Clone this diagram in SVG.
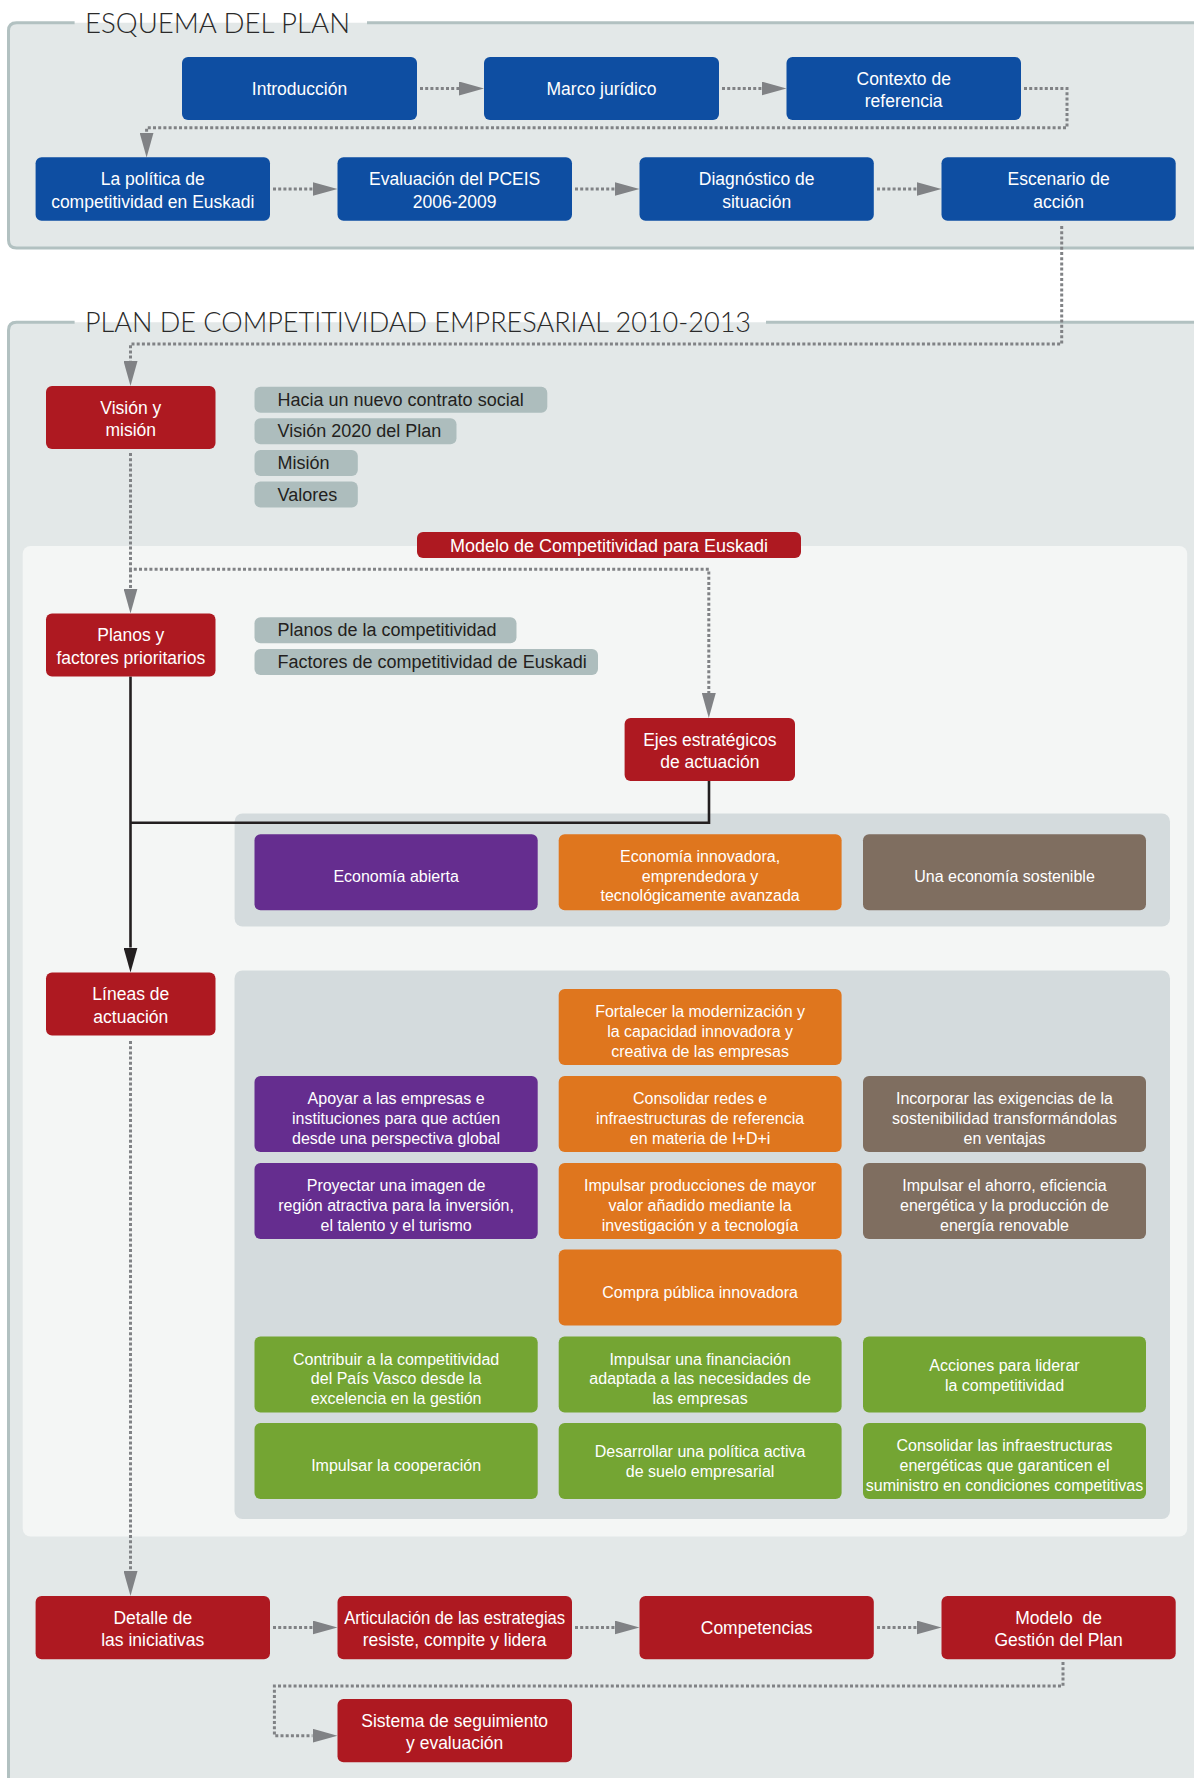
<svg xmlns="http://www.w3.org/2000/svg" width="1194" height="1778" viewBox="0 0 1194 1778">
<style>
.panel{fill:#e3e8e8}
.pborder{fill:none;stroke:#b2c1c1;stroke-width:3}
.title{font-family:Lato,"Liberation Sans",sans-serif;font-weight:300;font-size:28px;fill:#2a2a2a}
.blue{fill:#0e4ea2}
.red{fill:#ae1921}
.pill{fill:#adbdbd}
.pur{fill:#652d8f}
.ora{fill:#df761e}
.bro{fill:#7f6e60}
.gre{fill:#74a533}
.cont{fill:#d4dbdd}
.nt{font-family:"Liberation Sans",Arial,sans-serif;font-size:17.5px;fill:#ffffff;text-anchor:middle}
.lt{font-family:"Liberation Sans",Arial,sans-serif;font-size:16px;fill:#ffffff;text-anchor:middle}
.pt{font-family:"Liberation Sans",Arial,sans-serif;font-size:18px;fill:#231f20}
.dot{fill:none;stroke:#808285;stroke-width:3;stroke-dasharray:3 2.2}
.solid{fill:none;stroke:#231f20;stroke-width:2.6}
</style>
<defs>
<marker id="ag" markerWidth="25" markerHeight="14" refX="0" refY="7" orient="auto" markerUnits="userSpaceOnUse"><path d="M0,0 L25,7 L0,14 z" fill="#808285"/></marker>
<marker id="ab" markerWidth="25" markerHeight="14" refX="0" refY="7" orient="auto" markerUnits="userSpaceOnUse"><path d="M0,0 L25,7 L0,14 z" fill="#231f20"/></marker>
</defs>
<rect width="1194" height="1778" fill="#ffffff"/>

<!-- Panel 1 -->
<g id="panel-esquema">
<rect class="panel" x="8.5" y="22.7" width="1200" height="225.3" rx="8"/>
<path class="pborder" d="M367,22.7 H1200 M74.6,22.7 H16.5 Q8.5,22.7 8.5,30.7 V240 Q8.5,248 16.5,248 H1200"/>
<text class="title" x="85" y="33.3" textLength="265" lengthAdjust="spacingAndGlyphs">ESQUEMA DEL PLAN</text>
</g>

<!-- Panel 2 -->
<g id="panel-plan">
<rect class="panel" x="8.5" y="322.3" width="1200" height="1480" rx="8"/>
<path class="pborder" d="M766,322.3 H1200 M74.6,322.3 H16.5 Q8.5,322.3 8.5,330.3 V1800"/>
<text class="title" x="85" y="331.7" textLength="666" lengthAdjust="spacingAndGlyphs">PLAN DE COMPETITIVIDAD EMPRESARIAL 2010-2013</text>
<rect x="22.7" y="546" width="1164.5" height="990.5" rx="8" fill="#f4f6f5"/>
<rect class="cont" x="234.6" y="813.5" width="935.4" height="113" rx="8"/>
<rect class="cont" x="234.5" y="970.5" width="935.5" height="548.5" rx="8"/>
</g>

<!-- Connectors -->
<g id="connectors">
<path class="dot" d="M420,88.5 H459" marker-end="url(#ag)"/>
<path class="dot" d="M722,88.5 H761.5" marker-end="url(#ag)"/>
<path class="dot" d="M1024,88.5 H1067 V127.7 H146.6 V132.5" marker-end="url(#ag)"/>
<path class="dot" d="M273,189 H312.5" marker-end="url(#ag)"/>
<path class="dot" d="M575,189 H614.5" marker-end="url(#ag)"/>
<path class="dot" d="M877,189 H916.5" marker-end="url(#ag)"/>
<path class="dot" d="M1061.7,226 V344 H130.5 V361" marker-end="url(#ag)"/>
<path class="dot" d="M130.5,453 V569.3 H708.8 V693" marker-end="url(#ag)"/>
<path class="dot" d="M130.5,569.3 V588.5" marker-end="url(#ag)"/>
<path class="solid" d="M130.5,676.5 V947.5" marker-end="url(#ab)"/>
<path class="solid" d="M130.5,822.7 H709 V781"/>
<path class="dot" d="M130.5,1041 V1571" marker-end="url(#ag)"/>
<path class="dot" d="M273,1627.5 H312.5" marker-end="url(#ag)"/>
<path class="dot" d="M575,1627.5 H614.5" marker-end="url(#ag)"/>
<path class="dot" d="M877,1627.5 H916.5" marker-end="url(#ag)"/>
<path class="dot" d="M1063,1662 V1686 H274.4 V1735.7 H312.5" marker-end="url(#ag)"/>
</g>

<!-- Esquema nodes -->
<g id="n-introduccion"><rect class="blue" x="182" y="57" width="235" height="63" rx="6"/><text class="nt" x="299.5" y="94.5">Introducción</text></g>
<g id="n-marco"><rect class="blue" x="484" y="57" width="235" height="63" rx="6"/><text class="nt" x="601.5" y="94.5">Marco jurídico</text></g>
<g id="n-contexto"><rect class="blue" x="786.5" y="57" width="234.5" height="63" rx="6"/><text class="nt" x="903.7" y="84.5">Contexto de</text><text class="nt" x="903.7" y="107">referencia</text></g>
<g id="n-politica"><rect class="blue" x="35.6" y="157.3" width="234.4" height="63.4" rx="6"/><text class="nt" x="152.8" y="185">La política de</text><text class="nt" x="152.8" y="207.5">competitividad en Euskadi</text></g>
<g id="n-evaluacion"><rect class="blue" x="337.5" y="157.3" width="234.5" height="63.4" rx="6"/><text class="nt" x="454.7" y="185">Evaluación del PCEIS</text><text class="nt" x="454.7" y="207.5">2006-2009</text></g>
<g id="n-diagnostico"><rect class="blue" x="639.5" y="157.3" width="234.3" height="63.4" rx="6"/><text class="nt" x="756.7" y="185">Diagnóstico de</text><text class="nt" x="756.7" y="207.5">situación</text></g>
<g id="n-escenario"><rect class="blue" x="941.5" y="157.3" width="234.2" height="63.4" rx="6"/><text class="nt" x="1058.6" y="185">Escenario de</text><text class="nt" x="1058.6" y="207.5">acción</text></g>

<!-- Plan nodes -->
<g id="n-vision"><rect class="red" x="46" y="386" width="169.5" height="63" rx="6"/><text class="nt" x="130.8" y="413.5">Visión y</text><text class="nt" x="130.8" y="436">misión</text></g>
<g id="p-contrato"><rect class="pill" x="254.5" y="386.7" width="292.8" height="26" rx="6"/><text class="pt" x="277.5" y="405.7">Hacia un nuevo contrato social</text></g>
<g id="p-vision2020"><rect class="pill" x="254.5" y="418.3" width="202" height="26" rx="6"/><text class="pt" x="277.5" y="437.3">Visión 2020 del Plan</text></g>
<g id="p-mision"><rect class="pill" x="254.5" y="450" width="103.3" height="26" rx="6"/><text class="pt" x="277.5" y="469">Misión</text></g>
<g id="p-valores"><rect class="pill" x="254.5" y="481.5" width="103.3" height="26" rx="6"/><text class="pt" x="277.5" y="500.5">Valores</text></g>

<g id="n-modelo-comp"><rect class="red" x="417" y="532" width="384" height="26" rx="6"/><text class="nt" x="609" y="551.5" style="font-size:18px">Modelo de Competitividad para Euskadi</text></g>

<g id="n-planos"><rect class="red" x="46" y="613.5" width="169.5" height="63" rx="6"/><text class="nt" x="130.8" y="641">Planos y</text><text class="nt" x="130.8" y="663.5">factores prioritarios</text></g>
<g id="p-planos"><rect class="pill" x="254.5" y="617.3" width="262" height="26" rx="6"/><text class="pt" x="277.5" y="636.3">Planos de la competitividad</text></g>
<g id="p-factores"><rect class="pill" x="254.5" y="649" width="343.5" height="26" rx="6"/><text class="pt" x="277.5" y="668">Factores de competitividad de Euskadi</text></g>

<g id="n-ejes"><rect class="red" x="624.6" y="718" width="170.4" height="63" rx="6"/><text class="nt" x="709.8" y="745.5">Ejes estratégicos</text><text class="nt" x="709.8" y="768">de actuación</text></g>

<g id="e-abierta"><rect class="pur" x="254.5" y="834.3" width="283.2" height="76" rx="6"/><text class="lt" x="396.1" y="882">Economía abierta</text></g>
<g id="e-innovadora"><rect class="ora" x="558.7" y="834.3" width="282.9" height="76" rx="6"/><text class="lt" x="700.1" y="862">Economía innovadora,</text><text class="lt" x="700.1" y="881.5">emprendedora y</text><text class="lt" x="700.1" y="901">tecnológicamente avanzada</text></g>
<g id="e-sostenible"><rect class="bro" x="863" y="834.3" width="283" height="76" rx="6"/><text class="lt" x="1004.5" y="882">Una economía sostenible</text></g>

<g id="n-lineas"><rect class="red" x="46" y="972.5" width="169.5" height="63" rx="6"/><text class="nt" x="130.8" y="1000">Líneas de</text><text class="nt" x="130.8" y="1022.5">actuación</text></g>

<g id="l-fortalecer"><rect class="ora" x="558.7" y="989" width="282.9" height="76" rx="6"/><text class="lt" x="700.1" y="1017">Fortalecer la modernización y</text><text class="lt" x="700.1" y="1036.8">la capacidad innovadora y</text><text class="lt" x="700.1" y="1056.5">creativa de las empresas</text></g>
<g id="l-apoyar"><rect class="pur" x="254.5" y="1076" width="283.2" height="76" rx="6"/><text class="lt" x="396.1" y="1104">Apoyar a las empresas e</text><text class="lt" x="396.1" y="1123.8">instituciones para que actúen</text><text class="lt" x="396.1" y="1143.5">desde una perspectiva global</text></g>
<g id="l-consolidar-redes"><rect class="ora" x="558.7" y="1076" width="282.9" height="76" rx="6"/><text class="lt" x="700.1" y="1104">Consolidar redes e</text><text class="lt" x="700.1" y="1123.8">infraestructuras de referencia</text><text class="lt" x="700.1" y="1143.5">en materia de I+D+i</text></g>
<g id="l-incorporar"><rect class="bro" x="863" y="1076" width="283" height="76" rx="6"/><text class="lt" x="1004.5" y="1104">Incorporar las exigencias de la</text><text class="lt" x="1004.5" y="1123.8">sostenibilidad transformándolas</text><text class="lt" x="1004.5" y="1143.5">en ventajas</text></g>
<g id="l-proyectar"><rect class="pur" x="254.5" y="1163" width="283.2" height="76" rx="6"/><text class="lt" x="396.1" y="1191">Proyectar una imagen de</text><text class="lt" x="396.1" y="1210.8">región atractiva para la inversión,</text><text class="lt" x="396.1" y="1230.5">el talento y el turismo</text></g>
<g id="l-producciones"><rect class="ora" x="558.7" y="1163" width="282.9" height="76" rx="6"/><text class="lt" x="700.1" y="1191">Impulsar producciones de mayor</text><text class="lt" x="700.1" y="1210.8">valor añadido mediante la</text><text class="lt" x="700.1" y="1230.5">investigación y a tecnología</text></g>
<g id="l-ahorro"><rect class="bro" x="863" y="1163" width="283" height="76" rx="6"/><text class="lt" x="1004.5" y="1191">Impulsar el ahorro, eficiencia</text><text class="lt" x="1004.5" y="1210.8">energética y la producción de</text><text class="lt" x="1004.5" y="1230.5">energía renovable</text></g>
<g id="l-compra"><rect class="ora" x="558.7" y="1249.5" width="282.9" height="76" rx="6"/><text class="lt" x="700.1" y="1297.5">Compra pública innovadora</text></g>
<g id="l-contribuir"><rect class="gre" x="254.5" y="1336.5" width="283.2" height="76" rx="6"/><text class="lt" x="396.1" y="1364.5">Contribuir a la competitividad</text><text class="lt" x="396.1" y="1384.3">del País Vasco desde la</text><text class="lt" x="396.1" y="1404">excelencia en la gestión</text></g>
<g id="l-financiacion"><rect class="gre" x="558.7" y="1336.5" width="282.9" height="76" rx="6"/><text class="lt" x="700.1" y="1364.5">Impulsar una financiación</text><text class="lt" x="700.1" y="1384.3">adaptada a las necesidades de</text><text class="lt" x="700.1" y="1404">las empresas</text></g>
<g id="l-liderar"><rect class="gre" x="863" y="1336.5" width="283" height="76" rx="6"/><text class="lt" x="1004.5" y="1370.5">Acciones para liderar</text><text class="lt" x="1004.5" y="1390.5">la competitividad</text></g>
<g id="l-cooperacion"><rect class="gre" x="254.5" y="1423" width="283.2" height="76" rx="6"/><text class="lt" x="396.1" y="1471">Impulsar la cooperación</text></g>
<g id="l-suelo"><rect class="gre" x="558.7" y="1423" width="282.9" height="76" rx="6"/><text class="lt" x="700.1" y="1457">Desarrollar una política activa</text><text class="lt" x="700.1" y="1477">de suelo empresarial</text></g>
<g id="l-energeticas"><rect class="gre" x="863" y="1423" width="283" height="76" rx="6"/><text class="lt" x="1004.5" y="1451">Consolidar las infraestructuras</text><text class="lt" x="1004.5" y="1470.8">energéticas que garanticen el</text><text class="lt" x="1004.5" y="1490.5">suministro en condiciones competitivas</text></g>

<g id="n-detalle"><rect class="red" x="35.6" y="1596" width="234.4" height="63.3" rx="6"/><text class="nt" x="152.8" y="1623.5">Detalle de</text><text class="nt" x="152.8" y="1646">las iniciativas</text></g>
<g id="n-articulacion"><rect class="red" x="337.5" y="1596" width="234.5" height="63.3" rx="6"/><text class="nt" x="454.7" y="1623.5" textLength="221" lengthAdjust="spacingAndGlyphs">Articulación de las estrategias</text><text class="nt" x="454.7" y="1646">resiste, compite y lidera</text></g>
<g id="n-competencias"><rect class="red" x="639.5" y="1596" width="234.3" height="63.3" rx="6"/><text class="nt" x="756.7" y="1633.5">Competencias</text></g>
<g id="n-modelo-gestion"><rect class="red" x="941.5" y="1596" width="234.2" height="63.3" rx="6"/><text class="nt" x="1058.6" y="1623.5" xml:space="preserve">Modelo  de</text><text class="nt" x="1058.6" y="1646">Gestión del Plan</text></g>
<g id="n-sistema"><rect class="red" x="337.5" y="1699" width="234.5" height="63.3" rx="6"/><text class="nt" x="454.7" y="1726.5">Sistema de seguimiento</text><text class="nt" x="454.7" y="1749">y evaluación</text></g>
</svg>
